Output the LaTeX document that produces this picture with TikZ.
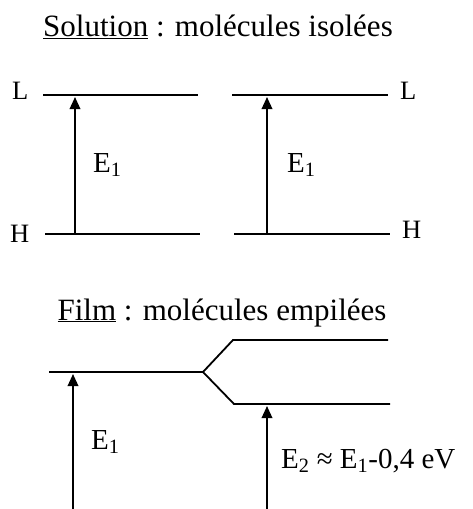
\documentclass[tikz,border=0pt]{standalone}
\usepackage{fontspec}
\setmainfont{Liberation Serif}
\usetikzlibrary{arrows.meta,positioning}

\begin{document}
\begin{tikzpicture}[x=1pt,y=-1pt,>={Triangle[length=12pt,width=10.5pt]},
  level/.style={line width=1.8pt},trans/.style={->,line width=1.8pt},
  title/.style={anchor=base,font=\fontsize{31}{36}\selectfont,inner sep=0pt},
  lab/.style={anchor=base west,font=\fontsize{26.5}{30}\selectfont,inner sep=0pt},
  elab/.style={anchor=base west,font=\fontsize{29}{34}\selectfont,inner sep=0pt}]
\useasboundingbox (0,0) rectangle (473,509);
% solution
\node[title] (soltitle) at (218,36) {\underline{Solution} : molécules isolées};
\coordinate (L1a) at (43,95);\coordinate (L1b) at (198,95);
\coordinate (H1a) at (45,234);\coordinate (H1b) at (200,234);
\coordinate (L2a) at (232,95);\coordinate (L2b) at (388,95);
\coordinate (H2a) at (234,234);\coordinate (H2b) at (390,234);
\draw[level] (L1a)--(L1b);\draw[level] (H1a)--(H1b);
\draw[level] (L2a)--(L2b);\draw[level] (H2a)--(H2b);
\node[lab] (lL1) at (12,99) {L};\node[lab] (lH1) at (10,242) {H};
\node[lab] (lL2) at (400,99) {L};\node[lab] (lH2) at (402,238) {H};
\coordinate (a1s) at (75,234);\coordinate (a1e) at (75,97);
\coordinate (a2s) at (267,234);\coordinate (a2e) at (267,97);
\draw[trans] (a1s)--(a1e);\draw[trans] (a2s)--(a2e);
\node[elab] (e1a) at (93,172) {E\textsubscript{1}};
\node[elab] (e1b) at (287,172) {E\textsubscript{1}};
% film
\node[title] (filmtitle) at (222,320) {\underline{Film} : molécules empilées};
\coordinate (F0) at (49,372);\coordinate (Fs) at (203,372);
\coordinate (Fu) at (233,340);\coordinate (Fue) at (388,340);
\coordinate (Fd) at (234,404);\coordinate (Fde) at (390,404);
\draw[level] (F0)--(Fs)--(Fu)--(Fue);
\draw[level] (Fs)--(Fd)--(Fde);
\coordinate (a3s) at (73,509);\coordinate (a3e) at (73,374);
\coordinate (a4s) at (267,509);\coordinate (a4e) at (267,406);
\draw[trans] (a3s)--(a3e);\draw[trans] (a4s)--(a4e);
\node[elab] (e1c) at (91,449) {E\textsubscript{1}};
\node[elab] (e2) at (281,468) {E\textsubscript{2} ≈ E\textsubscript{1}-0,4 eV};
\end{tikzpicture}
\end{document}
